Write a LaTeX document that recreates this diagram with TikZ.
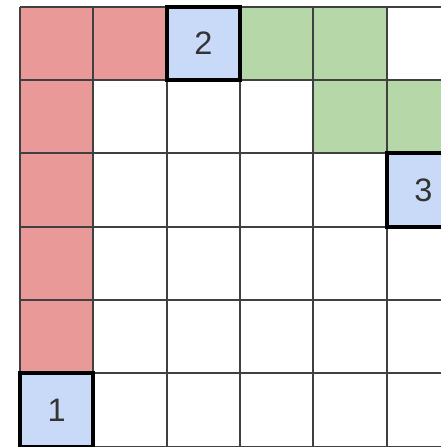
\documentclass[tikz,border=0pt]{standalone}
\usepackage{fontspec}
\setmainfont{Liberation Sans}
\usetikzlibrary{positioning}
\definecolor{cellred}{HTML}{EA9999}
\definecolor{cellgreen}{HTML}{B6D7A8}
\definecolor{cellblue}{HTML}{C9DAF8}
\definecolor{digit}{HTML}{333333}
\tikzset{
  cell/.style     = {minimum size=1cm, inner sep=0pt, outer sep=0pt},
  redcell/.style  = {cell, fill=cellred},
  greencell/.style= {cell, fill=cellgreen},
  mark cell/.style= {cell, fill=cellblue, draw=black, line width=1.6pt,
                     font=\fontsize{12.6}{15}\selectfont, text=digit},
  gridline/.style = {line width=0.8pt, draw=black!75},
}

\begin{document}
\begin{tikzpicture}
  \useasboundingbox (-0.2727,-0.005) rectangle (5.741,6.091);
  % coloured cells
  \foreach \c/\r in {0/5,1/5,0/4,0/3,0/2,0/1}
     {\node[redcell] (red-\c-\r) at (\c+0.5,\r+0.5) {};}
  \foreach \c/\r in {3/5,4/5,4/4,5/4}
     {\node[greencell] (green-\c-\r) at (\c+0.5,\r+0.5) {};}
  % the grid
  \draw[gridline] (0,0) grid (7,6);
  % numbered cells
  \node[mark cell] (one)   at (0.5,0.5) {1};
  \node[mark cell] (two)   at (2.5,5.5) {2};
  \node[mark cell] (three) at (5.5,3.5) {3};
\end{tikzpicture}
\end{document}
